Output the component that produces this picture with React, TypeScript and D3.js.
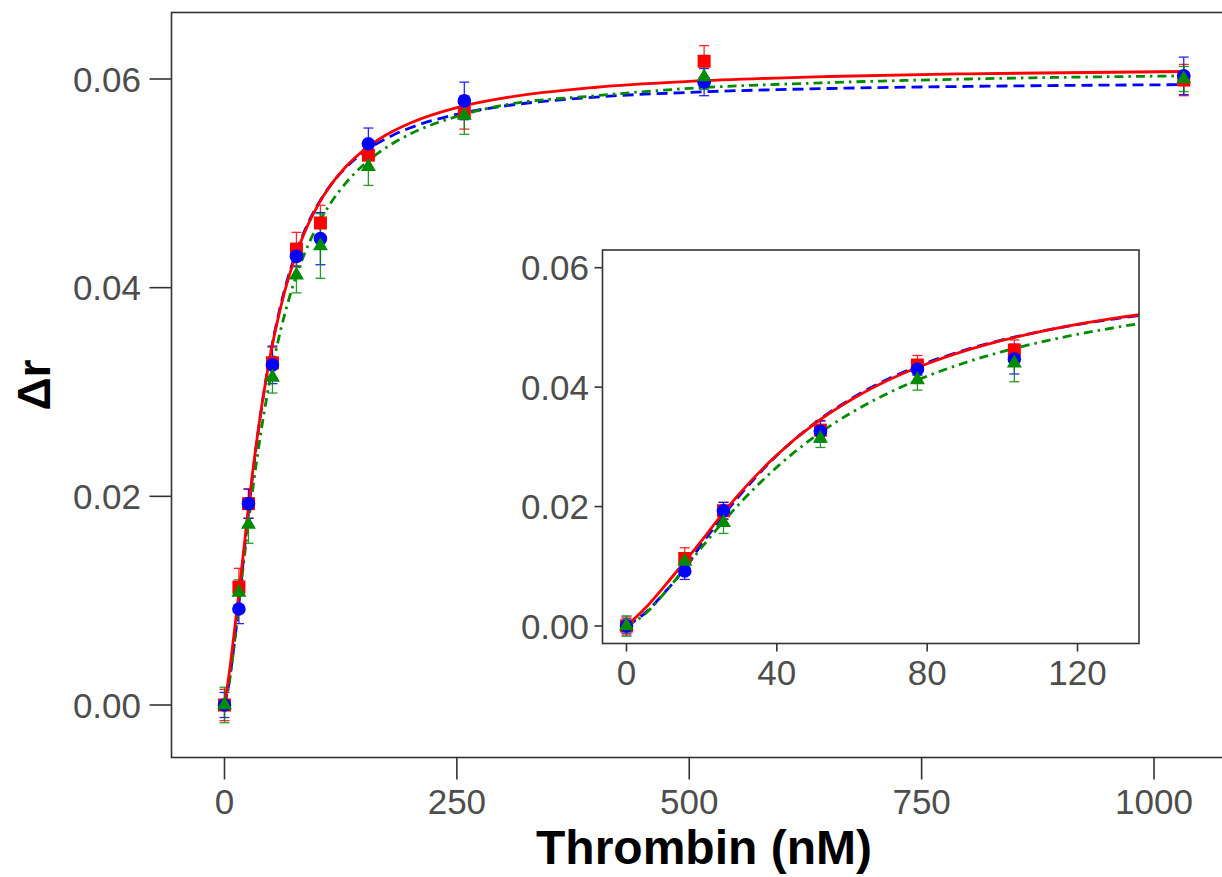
import React from 'react';
import * as d3 from 'd3';

// ---- data ----
const thrombin = [0, 15.5, 25.8, 51.6, 77.4, 103.2, 154.8, 258, 516, 1032];

const redMean = [0, 0.0113, 0.0193, 0.0328, 0.0437, 0.0462, 0.0527, 0.0568, 0.0617, 0.0599];
const redErr = [0.0015, 0.0018, 0.0014, 0.0015, 0.0016, 0.0017, 0.0012, 0.0016, 0.0015, 0.0015];
const blueMean = [0, 0.0092, 0.0193, 0.0326, 0.043, 0.0447, 0.0538, 0.0579, 0.0597, 0.0603];
const blueErr = [0.0012, 0.0014, 0.0014, 0.0018, 0.001, 0.0025, 0.0015, 0.0018, 0.0013, 0.0018];
const greenMean = [0, 0.0108, 0.0173, 0.0314, 0.0412, 0.044, 0.0516, 0.0565, 0.0602, 0.06];
const greenErr = [0.0017, 0.0012, 0.0018, 0.0015, 0.0017, 0.0031, 0.0018, 0.0018, 0.0012, 0.0012];

// fitted curves
const fitX = [0, 5, 10, 15, 20, 25, 30, 40, 50, 60, 70, 80, 90, 100, 115, 130, 140, 160, 180, 200, 250, 300, 400, 500, 650, 800, 1032];
const redFit = [0, 0.003, 0.0066, 0.0104, 0.01428, 0.01836, 0.02213, 0.02864, 0.03385, 0.03797, 0.04127, 0.04391, 0.04606, 0.04782, 0.04992, 0.05154, 0.05243, 0.05386, 0.05494, 0.05579, 0.05726, 0.05817, 0.05921, 0.05977, 0.06024, 0.0605, 0.06072];
const blueFit = [0, 0.0022, 0.0055, 0.0092, 0.0137, 0.01788, 0.02179, 0.02855, 0.03392, 0.03815, 0.04147, 0.04409, 0.0462, 0.04791, 0.04992, 0.05145, 0.05228, 0.05359, 0.05457, 0.05533, 0.05662, 0.0574, 0.05827, 0.05872, 0.05909, 0.05929, 0.05946];
const greenFit = [0, 0.00205, 0.00544, 0.00927, 0.01316, 0.01692, 0.02043, 0.02661, 0.03167, 0.03578, 0.03911, 0.04184, 0.04408, 0.04595, 0.04821, 0.04998, 0.05096, 0.05254, 0.05377, 0.05474, 0.05642, 0.05749, 0.0584, 0.0591, 0.05965, 0.06, 0.0603];

const mainXTicks = [0, 250, 500, 750, 1000];
const insetXTicks = [0, 40, 80, 120];
const yTicks = [0, 0.02, 0.04, 0.06];

const FONT = "'Liberation Sans', Arial, Helvetica, sans-serif";
const AXIS_GREY = '#4D4D4D';
const BORDER = '#333333';

type Series = { mean: number[]; err: number[]; fit: number[]; color: string; dash: string; shape: string };

const series: Series[] = [
  { mean: redMean, err: redErr, fit: redFit, color: '#FF0000', dash: 'none', shape: 'square' },
  { mean: blueMean, err: blueErr, fit: blueFit, color: '#0000FF', dash: '11,6', shape: 'circle' },
  { mean: greenMean, err: greenErr, fit: greenFit, color: '#008B00', dash: '9,5,2.5,5', shape: 'triangle' },
];

type PanelProps = {
  id: string;
  x: d3.ScaleLinear<number, number>;
  y: d3.ScaleLinear<number, number>;
  box: { x0: number; y0: number; x1: number; y1: number };
  xTicks: number[];
  tickLen: number;
  xLabelBaseline: number;
  yLabelRight: number;
  maxX: number;
};

function Panel({ id, x, y, box, xTicks, tickLen, xLabelBaseline, yLabelRight, maxX }: PanelProps) {
  const line = d3
    .line<number>()
    .x((_, i) => x(fitX[i]))
    .y((d) => y(d))
    .curve(d3.curveMonotoneX);
  const idx = thrombin.map((_, i) => i).filter((i) => thrombin[i] <= maxX);
  const cap = 5;
  const drawOrder = [1, 2, 0];
  return (
    <g>
      <defs>
        <clipPath id={id}>
          <rect x={box.x0} y={box.y0} width={box.x1 - box.x0} height={box.y1 - box.y0} />
        </clipPath>
      </defs>
      <rect x={box.x0} y={box.y0} width={box.x1 - box.x0} height={box.y1 - box.y0} fill="#fff" />
      <g clipPath={`url(#${id})`}>
        {series.map((s, si) =>
          idx.map((i) => {
            const cx = x(thrombin[i]);
            const top = y(s.mean[i] + s.err[i]);
            const bot = y(s.mean[i] - s.err[i]);
            return (
              <g key={`e${si}-${i}`} stroke={s.color} strokeWidth={1.3} opacity={0.85}>
                <line x1={cx} x2={cx} y1={top} y2={bot} />
                <line x1={cx - cap} x2={cx + cap} y1={top} y2={top} />
                <line x1={cx - cap} x2={cx + cap} y1={bot} y2={bot} />
              </g>
            );
          })
        )}
        {drawOrder.map((si) => {
          const s = series[si];
          return (
            <path
              key={`l${si}`}
              d={line(s.fit) || ''}
              fill="none"
              stroke={s.color}
              strokeWidth={2.8}
              strokeDasharray={s.dash}
            />
          );
        })}
        {series.map((s, si) =>
          idx.map((i) => {
            const cx = x(thrombin[i]);
            const cy = y(s.mean[i]);
            if (s.shape === 'square')
              return <rect key={`p${si}-${i}`} x={cx - 6.5} y={cy - 6.5} width={13} height={13} fill={s.color} />;
            if (s.shape === 'circle') return <circle key={`p${si}-${i}`} cx={cx} cy={cy} r={6.8} fill={s.color} />;
            const side = 15;
            const h = side * 0.866;
            const pts = [
              [cx, cy - (h * 2) / 3],
              [cx - side / 2, cy + h / 3],
              [cx + side / 2, cy + h / 3],
            ]
              .map((p) => p.join(','))
              .join(' ');
            return <polygon key={`p${si}-${i}`} points={pts} fill={s.color} />;
          })
        )}
      </g>
      <rect
        x={box.x0}
        y={box.y0}
        width={box.x1 - box.x0}
        height={box.y1 - box.y0}
        fill="none"
        stroke={BORDER}
        strokeWidth={1.6}
      />
      {xTicks.map((t) => (
        <g key={`xt${t}`}>
          <line x1={x(t)} x2={x(t)} y1={box.y1} y2={box.y1 + tickLen} stroke={BORDER} strokeWidth={1.6} />
          <text x={x(t)} y={xLabelBaseline} textAnchor="middle" fontFamily={FONT} fontSize={35} fill={AXIS_GREY}>
            {t}
          </text>
        </g>
      ))}
      {yTicks.map((t) => (
        <g key={`yt${t}`}>
          <line x1={box.x0 - tickLen} x2={box.x0} y1={y(t)} y2={y(t)} stroke={BORDER} strokeWidth={1.6} />
          <text
            x={yLabelRight}
            y={y(t) + 12.5}
            textAnchor="end"
            fontFamily={FONT}
            fontSize={35}
            fill={AXIS_GREY}
          >
            {d3.format('.2f')(t)}
          </text>
        </g>
      ))}
    </g>
  );
}

export default function App() {
  const W = 1222;
  const H = 877;
  const mx = d3.scaleLinear().domain([0, 1000]).range([224.5, 1154]);
  const my = d3.scaleLinear().domain([0, 0.06]).range([705, 79]);
  const ix = d3.scaleLinear().domain([0, 120]).range([626.5, 1077.5]);
  const iy = d3.scaleLinear().domain([0, 0.06]).range([626, 267.7]);

  return (
    <svg
      width={W}
      height={H}
      viewBox={`0 0 ${W} ${H}`}
      style={{ position: 'absolute', left: 0, top: 0, background: '#fff' }}
    >
      <rect x={0} y={0} width={W} height={H} fill="#fff" />
      <Panel
        id="mainClip"
        x={mx}
        y={my}
        box={{ x0: 171.5, y0: 12.5, x1: 1240, y1: 757.5 }}
        xTicks={mainXTicks}
        tickLen={22}
        xLabelBaseline={814}
        yLabelRight={141}
        maxX={2000}
      />
      <Panel
        id="insetClip"
        x={ix}
        y={iy}
        box={{ x0: 602.5, y0: 250, x1: 1139, y1: 643.5 }}
        xTicks={insetXTicks}
        tickLen={8}
        xLabelBaseline={685}
        yLabelRight={589}
        maxX={130}
      />
      <text
        x={704}
        y={864}
        textAnchor="middle"
        fontFamily={FONT}
        fontSize={48}
        fontWeight="bold"
        fill="#000"
      >
        Thrombin (nM)
      </text>
      <text
        transform="translate(50,385) rotate(-90)"
        textAnchor="middle"
        fontFamily={FONT}
        fontSize={46}
        fontWeight="bold"
        fill="#000"
      >
        Δr
      </text>
    </svg>
  );
}
